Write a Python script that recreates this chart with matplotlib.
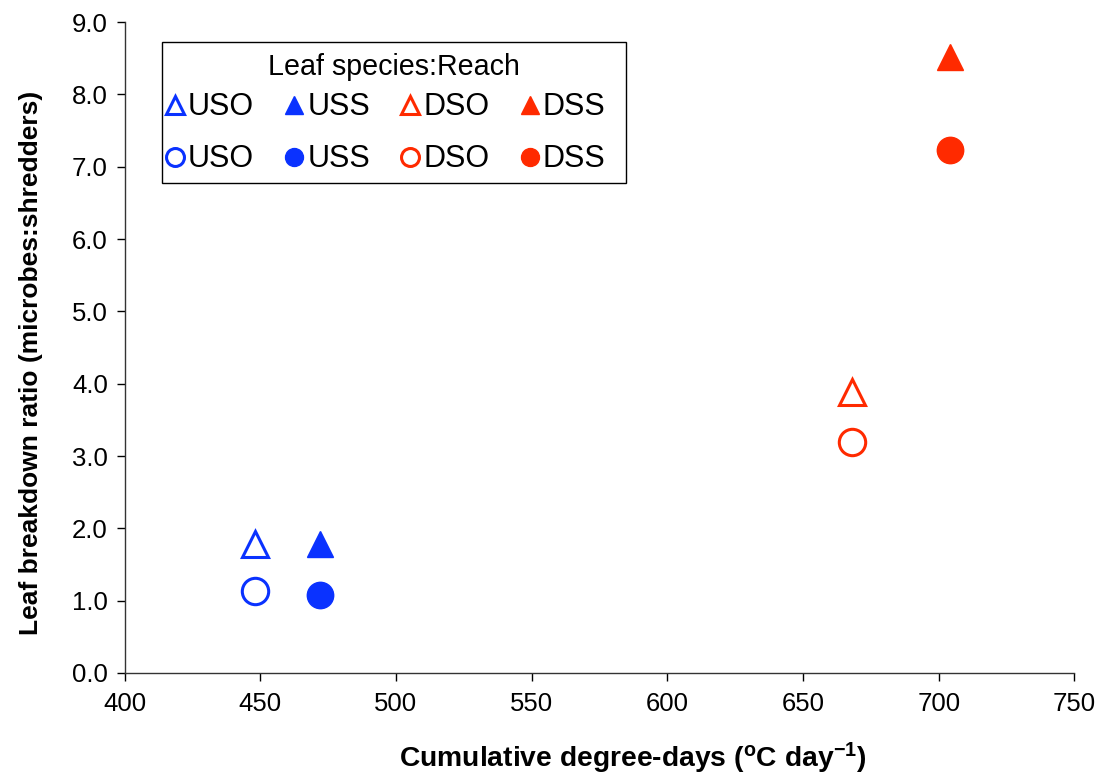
import matplotlib
matplotlib.use("Agg")
import matplotlib.pyplot as plt
from matplotlib.patches import Rectangle

plt.rcParams.update({
    "font.family": ["Liberation Sans", "DejaVu Sans"],
    "font.size": 14,
})

# Leaf species:Reach groups
groups = ["USO", "USS", "DSO", "DSS"]
degree_days = [448, 472, 668, 704]
ratio_tri = [1.78, 1.78, 3.89, 8.52]
ratio_circ = [1.13, 1.08, 3.20, 7.23]
colors = ["#0a32ff", "#0a32ff", "#ff2a00", "#ff2a00"]
filled = [False, True, False, True]

fig = plt.figure(figsize=(11.02, 7.74), dpi=100)
ax = fig.add_axes([0.113, 0.1305, 0.862, 0.841])

handles = []
for g, x, yt, yc, c, f in zip(groups, degree_days, ratio_tri, ratio_circ,
                              colors, filled):
    face = c if f else "white"
    ew = 1.0 if f else 2.2
    h1, = ax.plot([x], [yt], linestyle="none", marker="^", markersize=19,
                  markerfacecolor=face, markeredgecolor=c,
                  markeredgewidth=ew, label=g, zorder=3)
    h2, = ax.plot([x], [yc], linestyle="none", marker="o", markersize=19,
                  markerfacecolor=face, markeredgecolor=c,
                  markeredgewidth=ew, label=g, zorder=3)
    handles += [h1, h2]

ax.set_xlim(400, 750)
ax.set_ylim(0, 9)
ax.set_xticks(range(400, 751, 50))
ax.set_yticks(range(0, 10))
ax.set_yticklabels([f"{v:.1f}" for v in range(0, 10)])
ax.tick_params(direction="out", length=6, width=1, labelsize=18.5)
ax.tick_params(axis="x", pad=8)
ax.tick_params(axis="y", pad=6)
for s in ["top", "right"]:
    ax.spines[s].set_visible(False)
for s in ["left", "bottom"]:
    ax.spines[s].set_color("#333333")
    ax.spines[s].set_linewidth(1.0)

ax.set_xlabel("Cumulative degree-days ($\\mathregular{^{o}}$C day$\\mathregular{^{-1}}$)",
              fontsize=20.3, fontweight="bold")
ax.set_ylabel("Leaf breakdown ratio (microbes:shredders)", fontsize=19,
              fontweight="bold")
ax.xaxis.set_label_coords(0.535, -0.104)
ax.yaxis.set_label_coords(-0.086, 0.477)

# legend frame + title drawn by hand, entries by ax.legend
ax.add_patch(Rectangle((0.039, 0.7527), 0.489, 0.2163, transform=ax.transAxes,
                       facecolor="white", edgecolor="black", linewidth=1.0,
                       clip_on=False, zorder=4))
ax.text(0.2835, 0.931, "Leaf species:Reach", transform=ax.transAxes,
        ha="center", va="center", fontsize=20.6, zorder=6)
leg = ax.legend(handles=handles, labels=[h.get_label() for h in handles],
                ncol=4, loc="center left",
                bbox_to_anchor=(0.0435, 0.8288), borderaxespad=0,
                fontsize=22, markerscale=0.68, handlelength=0.6,
                handletextpad=0.12, columnspacing=1.02, labelspacing=0.72,
                frameon=False, borderpad=0)
leg.set_zorder(5)

fig.savefig("out.png", dpi=100)
